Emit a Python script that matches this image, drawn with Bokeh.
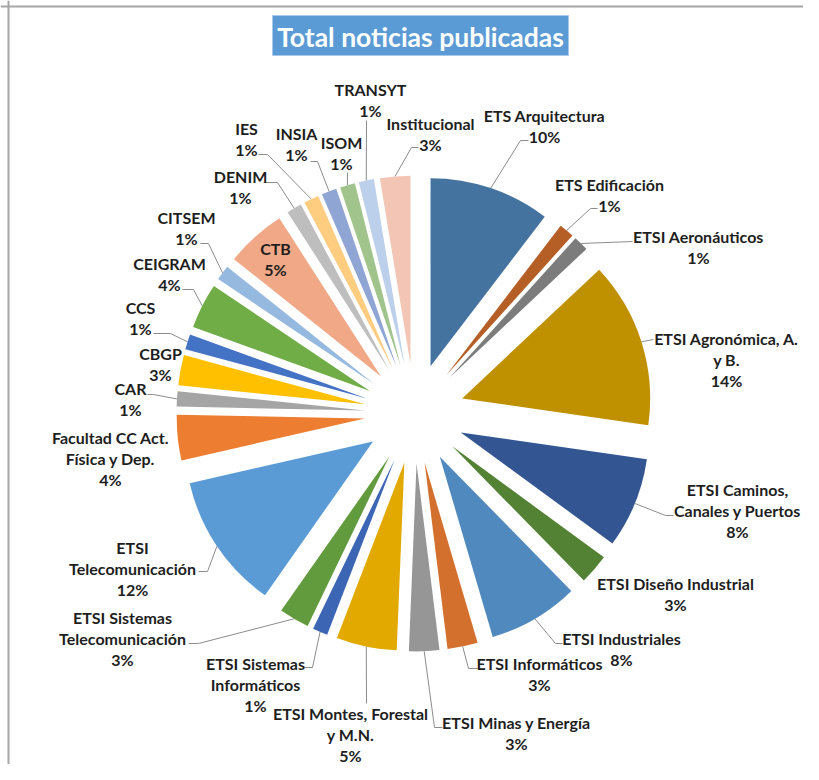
import math
from bokeh.plotting import figure
from bokeh.models import Range1d, Span
from bokeh.core.properties import value
from bokeh.embed import file_html
from bokeh.resources import INLINE

# ---------------- data ----------------
categories = [
    "ETS Arquitectura", "ETS Edificación", "ETSI Aeronáuticos",
    "ETSI Agronómica, A. y B.", "ETSI Caminos, Canales y Puertos",
    "ETSI Diseño Industrial", "ETSI Industriales", "ETSI Informáticos",
    "ETSI Minas y Energía", "ETSI Montes, Forestal y M.N.",
    "ETSI Sistemas Informáticos", "ETSI Sistemas Telecomunicación",
    "ETSI Telecomunicación", "Facultad CC Act. Física y Dep.",
    "CAR", "CBGP", "CCS", "CEIGRAM", "CITSEM", "CTB", "DENIM", "IES",
    "INSIA", "ISOM", "TRANSYT", "Institucional",
]
noticias = [8, 1, 1, 11, 6, 2, 6, 2, 2, 4, 1, 2, 9, 3, 1, 2, 1, 3, 1, 4,
            1, 1, 1, 1, 1, 2]
label_lines = [
    ["ETS Arquitectura"], ["ETS Edificación"], ["ETSI Aeronáuticos"],
    ["ETSI Agronómica, A.", "y B."], ["ETSI Caminos,", "Canales y Puertos"],
    ["ETSI Diseño Industrial"], ["ETSI Industriales"], ["ETSI Informáticos"],
    ["ETSI Minas y Energía"], ["ETSI Montes, Forestal", "y M.N."],
    ["ETSI Sistemas", "Informáticos"], ["ETSI Sistemas", "Telecomunicación"],
    ["ETSI", "Telecomunicación"], ["Facultad CC Act.", "Física y Dep."],
    ["CAR"], ["CBGP"], ["CCS"], ["CEIGRAM"], ["CITSEM"], ["CTB"], ["DENIM"],
    ["IES"], ["INSIA"], ["ISOM"], ["TRANSYT"], ["Institucional"],
]
title_text = "Total noticias publicadas"

# ---------------- styles ----------------
colors = [
    "#44739F", "#B55E26", "#7C7C7C", "#BF9000", "#335693", "#548235",
    "#4F89BE", "#D4702D", "#969696", "#E2AA00", "#3C66B3", "#629B3D",
    "#5B9BD5", "#ED7D31", "#A5A5A5", "#FFC000", "#4472C4", "#70AD47",
    "#96B9E0", "#F1A886", "#BEBEBE", "#FFCD80", "#8FA5D4", "#A0C48C",
    "#BCD0EB", "#F3C5B4",
]

# layout (screen px): label centre x, first-line y ; leader start, elbow
label_pos = [
    (544, 115), (609, 184), (698, 236), (726, 338), (737, 489), (675, 583),
    (621, 638), (539, 663), (516, 722), (350, 713), (255, 663), (122, 617),
    (132, 547), (110, 437), (130, 388), (160, 353), (140, 307), (169, 263),
    (186, 217), (275, 248), (240, 176), (246, 128), (296, 133), (341, 142),
    (370, 89), (430, 123),
]
leader = [
    ((528, 140), (520, 140)), ((597, 208), (590, 208)), ((632, 241), None),
    ((653, 339), None), ((673, 515), (665, 515)), None,
    ((562, 643), (555, 643)), ((477, 668), (468, 668)), ((442, 727), (434, 727)),
    ((366, 703), None), ((304, 667), (312, 667)), ((188, 643), (198, 643)),
    ((198, 571), (207, 571)), None, ((147, 394), (153, 394)), None,
    ((153, 333), (170, 333)), ((182, 289), (193, 289)), ((200, 243), (208, 243)),
    None, ((263, 182), (277, 182)), ((258, 154), (267, 154)),
    ((310, 161), (317, 161)), ((347, 172), None), ((366, 120), None),
    ((418, 147), (411, 147)),
]

W, H = 803, 764
PAGE_H = 780


def sy(y):
    return PAGE_H - y


CX, CY = 414, sy(413)
EXPLODE = 50
RADIUS = 188
LINE_GAP = 21
FONT = "Lato"

p = figure(width=W, height=H, output_backend="svg", toolbar_location=None,
           x_range=Range1d(0, W), y_range=Range1d(PAGE_H - H, PAGE_H),
           min_border=0)
p.axis.visible = False
p.grid.visible = False
p.outline_line_color = None
p.background_fill_color = "white"
p.border_fill_color = "white"

# frame lines (top and left only, as in reference)
p.add_layout(Span(location=8, dimension="height", line_color="#A6A6A6", line_width=2))
p.add_layout(Span(location=sy(6), dimension="width", line_color="#A6A6A6", line_width=2))

total = sum(noticias)
cum = 0
wx, wy, ws, we, outer = [], [], [], [], []
for v in noticias:
    a1 = cum / total * 2 * math.pi
    a2 = (cum + v) / total * 2 * math.pi
    am = (a1 + a2) / 2
    wx.append(CX + EXPLODE * math.sin(am))
    wy.append(CY + EXPLODE * math.cos(am))
    ws.append(math.pi / 2 - a2)
    we.append(math.pi / 2 - a1)
    outer.append((CX + (EXPLODE + RADIUS) * math.sin(am),
                  CY + (EXPLODE + RADIUS) * math.cos(am)))
    cum += v

p.wedge(x=wx, y=wy, radius=RADIUS, start_angle=ws, end_angle=we,
        direction="anticlock", fill_color=colors, line_color=None)

# leader lines
lxs, lys = [], []
for i, ld in enumerate(leader):
    if ld is None:
        continue
    (sx0, sy0), el = ld
    xs = [sx0]
    ys = [sy(sy0)]
    if el is not None:
        xs.append(el[0])
        ys.append(sy(el[1]))
    xs.append(outer[i][0])
    ys.append(outer[i][1])
    lxs.append(xs)
    lys.append(ys)
p.multi_line(xs=lxs, ys=lys, line_color="#8C8C8C", line_width=1)

# labels
tx, ty, tt = [], [], []
for i, v in enumerate(noticias):
    pct = f"{int(v / total * 100 + 0.5)}%"
    lines = label_lines[i] + [pct]
    x0, y0 = label_pos[i]
    for k, s in enumerate(lines):
        tx.append(x0)
        ty.append(sy(y0 + k * LINE_GAP))
        tt.append(s)
p.text(x=tx, y=ty, text=tt, text_align="center", text_baseline="middle",
       text_font=value(FONT), text_font_style="bold", text_font_size="16px",
       text_color="#1E1E1E")

# title
p.rect(x=[420], y=[sy(35)], width=296, height=40, fill_color="#5B9BD5",
       line_color="#A9C8E8", line_width=1)
p.text(x=[420], y=[sy(36)], text=[title_text], text_align="center",
       text_baseline="middle", text_font=value(FONT), text_font_style="bold",
       text_font_size="26.5px", text_color="white")

open("out.html", "w").write(file_html(p, INLINE))
